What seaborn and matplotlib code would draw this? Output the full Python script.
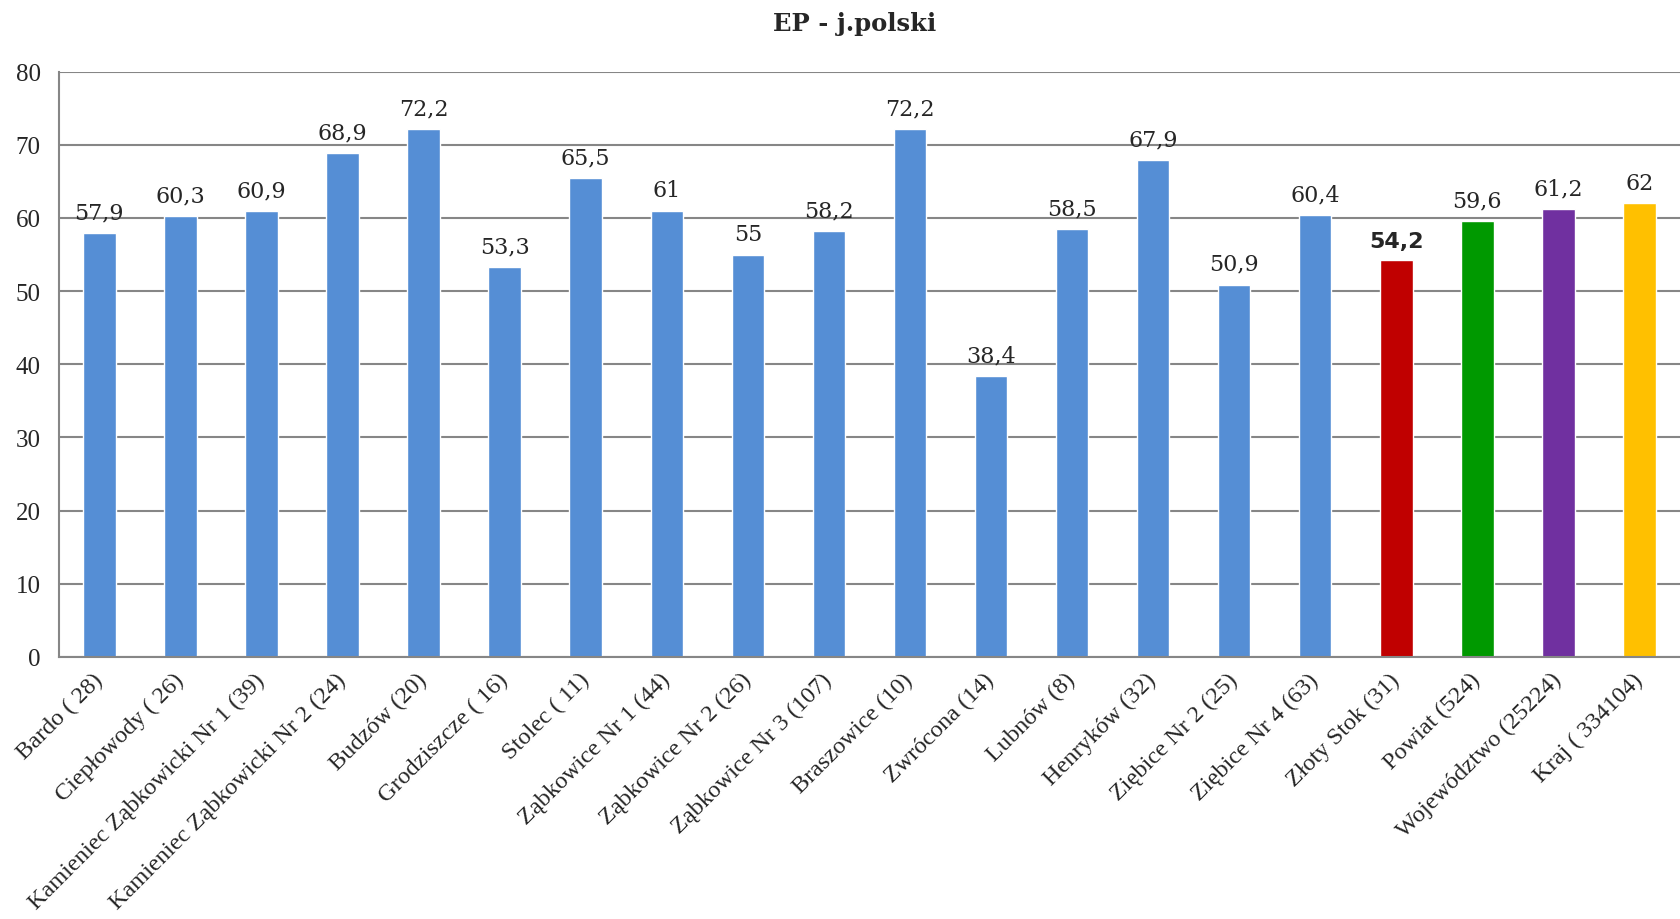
import matplotlib
matplotlib.use('Agg')
import matplotlib.pyplot as plt
import seaborn as sns
from matplotlib.ticker import FixedLocator

# Data
categories = ['Bardo ( 28)', 'Ciepłowody ( 26)', 'Kamieniec Ząbkowicki Nr 1 (39)',
              'Kamieniec Ząbkowicki Nr 2 (24)', 'Budzów (20)', 'Grodziszcze ( 16)',
              'Stolec ( 11)', 'Ząbkowice Nr 1 (44)', 'Ząbkowice Nr 2 (26)',
              'Ząbkowice Nr 3 (107)', 'Braszowice (10)', 'Zwrócona (14)', 'Lubnów (8)',
              'Henryków (32)', 'Ziębice Nr 2 (25)', 'Ziębice Nr 4 (63)', 'Złoty Stok (31)',
              'Powiat (524)', 'Województwo (25224)', 'Kraj ( 334104)']
values = [57.9, 60.3, 60.9, 68.9, 72.2, 53.3, 65.5, 61, 55, 58.2,
          72.2, 38.4, 58.5, 67.9, 50.9, 60.4, 54.2, 59.6, 61.2, 62]
bar_colors = ['#558ED5'] * 16 + ['#C00000', '#009900', '#7030A0', '#FFC000']
highlight = 'Złoty Stok (31)'

sns.set_style('white')
fig = plt.figure(figsize=(16.8, 9.2), dpi=100)
ax = fig.add_axes([0.035, 0.285, 0.965, 0.636])

sns.barplot(x=categories, y=values, hue=categories, palette=bar_colors,
            width=0.4, legend=False, saturation=1, ax=ax)

# Value labels with decimal comma
for cont, cat, v in zip(ax.containers, categories, values):
    txt = f'{v:g}'.replace('.', ',')
    if cat == highlight:
        ax.bar_label(cont, labels=[txt], padding=7, fontsize=16,
                     fontweight='bold', family='DejaVu Sans')
    else:
        ax.bar_label(cont, labels=[txt], padding=7, fontsize=16, family='DejaVu Serif')

ax.set_ylim(0, 80)
ax.set_xlim(-0.5, len(categories) - 0.5)
ax.set_yticks(range(0, 81, 10))
ax.yaxis.grid(True, color='#868686', linewidth=1.5)
ax.set_axisbelow(True)

for side in ['top', 'right']:
    ax.spines[side].set_visible(False)
for side in ['left', 'bottom']:
    ax.spines[side].set_color('#868686')
    ax.spines[side].set_linewidth(1.5)

ax.set_xticks(range(len(categories)))
ax.set_xticklabels(categories, rotation=45, ha='right', va='center',
                   rotation_mode='anchor', family='Liberation Serif', fontsize=17.5)
ax.tick_params(axis='x', which='major', length=0, pad=14)
ax.xaxis.set_minor_locator(FixedLocator([i - 0.5 for i in range(len(categories) + 1)]))
ax.tick_params(axis='x', which='minor', length=7, width=1.5, color='#868686', direction='out')
ax.tick_params(axis='y', length=7, width=1.5, color='#868686', direction='out', pad=6)
for lab in ax.get_yticklabels():
    lab.set_family('Liberation Serif')
    lab.set_fontsize(18)

fig.text(0.509, 0.974, 'EP - j.polski', ha='center', va='center',
         fontsize=17.5, fontweight='bold', family='DejaVu Serif')

fig.savefig('out.png', dpi=100)
